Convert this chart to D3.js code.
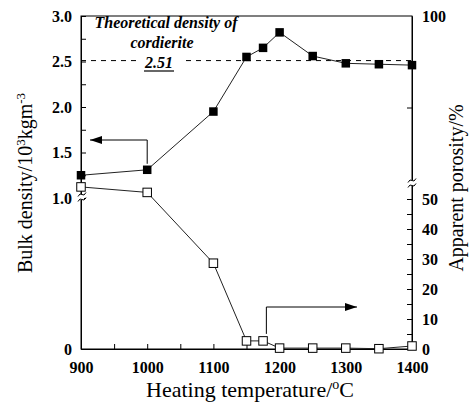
<!DOCTYPE html>
<html>
<head>
<meta charset="utf-8">
<script src="https://cdn.jsdelivr.net/npm/d3@7"></script>
<style>
  body { margin: 0; background: #fff; }
  svg { display: block; }
  .tick text { font-family: "Liberation Serif", "DejaVu Serif", serif; font-weight: bold; font-size: 16px; fill: #000; }
  .title { font-family: "Liberation Serif", "DejaVu Serif", serif; font-size: 20px; fill: #000; }
  .note { font-family: "Liberation Serif", "DejaVu Serif", serif; font-size: 16px; font-weight: bold; font-style: italic; fill: #000; }
</style>
</head>
<body>
<svg id="chart" width="471" height="403"></svg>
<script>
// heating temperature (°C)
const temps = [900, 1000, 1100, 1150, 1175, 1200, 1250, 1300, 1350, 1400];
// bulk density (10^3 kg m^-3)
const density = [1.25, 1.31, 1.95, 2.55, 2.65, 2.82, 2.56, 2.48, 2.47, 2.46];
// apparent porosity (%)
const porosity = [53.3, 51.8, 28.6, 2.7, 2.7, 0.3, 0.3, 0.3, 0.1, 1.0];

const theoretical = 2.51;

const xTicks = [900, 1000, 1100, 1200, 1300, 1400];
const xMinor = [950, 1050, 1150, 1250, 1350];
const leftTicks = [0, 1.0, 1.5, 2.0, 2.5, 3.0];
const leftMinor = [1.25, 1.75, 2.25, 2.75];
const rightTicks = [0, 10, 20, 30, 40, 50, 100];
const rightMinor = [5, 15, 25, 35, 45, 75];

const svg = d3.select('#chart');

const x = d3.scaleLinear().domain([900, 1400]).range([81, 412]);
// broken axes: lower part below the break, compressed upper part above it
const yL = d3.scaleLinear().domain([0, 1, 3]).range([349, 198, 16]);
const yR = d3.scaleLinear().domain([0, 50, 100]).range([349, 199, 16]);

// frame
svg.append('rect')
    .attr('x', x.range()[0]).attr('y', 16)
    .attr('width', x.range()[1] - x.range()[0]).attr('height', 349 - 16)
    .attr('fill', 'none').attr('stroke', '#000').attr('stroke-width', 1);

// axes
const gx = svg.append('g').attr('transform', 'translate(0,349)')
    .call(d3.axisBottom(x).tickValues(xTicks).tickSize(-5).tickSizeOuter(0).tickPadding(10).tickFormat(d3.format('d')));
svg.append('g').attr('transform', 'translate(0,349)')
    .call(d3.axisBottom(x).tickValues(xMinor).tickSize(-5).tickSizeOuter(0).tickFormat(''));

const gl = svg.append('g').attr('transform', 'translate(81,0)')
    .call(d3.axisLeft(yL).tickValues(leftTicks).tickSize(-5).tickSizeOuter(0).tickPadding(9)
        .tickFormat(d => d === 0 ? '0' : d3.format('.1f')(d)));
gl.selectAll('.tick').filter(d => d === 0).select('line').remove();
svg.append('g').attr('transform', 'translate(81,0)')
    .call(d3.axisLeft(yL).tickValues(leftMinor).tickSize(-5).tickSizeOuter(0).tickFormat(''));

const gr = svg.append('g').attr('transform', 'translate(412,0)')
    .call(d3.axisRight(yR).tickValues(rightTicks).tickSize(-5).tickSizeOuter(0).tickPadding(10));
gr.selectAll('.tick').filter(d => d === 0 || d === 100).select('line').remove();
svg.append('g').attr('transform', 'translate(412,0)')
    .call(d3.axisRight(yR).tickValues(rightMinor).tickSize(-5).tickSizeOuter(0).tickFormat(''));

svg.selectAll('g').attr('font-family', null);
svg.selectAll('.domain').attr('stroke', '#000');
svg.selectAll('.tick line').attr('stroke', '#000');
gx.selectAll('.tick text').attr('dy', '0.9em');

// axis break marks
function axisBreak(cx, cy) {
    const g = svg.append('g').attr('transform', `translate(${cx},${cy})`);
    g.append('rect').attr('x', -2).attr('y', -3).attr('width', 4).attr('height', 6).attr('fill', '#fff');
    [-2.5, 2.5].forEach(dy => {
        g.append('path')
            .attr('d', `M-4,${dy + 2} q2,-4 4,-2 q2,2 4,-2`)
            .attr('fill', 'none').attr('stroke', '#000').attr('stroke-width', 1);
    });
}
axisBreak(82, yL(1.0) - 1);
axisBreak(412, 183);

// theoretical density line
svg.append('line')
    .attr('x1', x(900)).attr('x2', 140)
    .attr('y1', yL(theoretical)).attr('y2', yL(theoretical))
    .attr('stroke', '#000').attr('stroke-dasharray', '5,5');
svg.append('line')
    .attr('x1', 186).attr('x2', x(1400))
    .attr('y1', yL(theoretical)).attr('y2', yL(theoretical))
    .attr('stroke', '#000').attr('stroke-dasharray', '5,5');

const note = svg.append('g');
note.append('text').attr('class', 'note').attr('x', 166).attr('y', 28).attr('text-anchor', 'middle').text('Theoretical density of');
note.append('text').attr('class', 'note').attr('x', 162).attr('y', 48).attr('text-anchor', 'middle').text('cordierite');
note.append('text').attr('class', 'note').attr('x', 159).attr('y', 68).attr('text-anchor', 'middle').text(d3.format('.2f')(theoretical));
note.append('line').attr('x1', 144).attr('x2', 174).attr('y1', 71).attr('y2', 71).attr('stroke', '#000').attr('stroke-width', 1.2);

// series
const dens = temps.map((t, i) => [t, density[i]]);
const poro = temps.map((t, i) => [t, porosity[i]]);

svg.append('path').datum(dens)
    .attr('d', d3.line().x(d => x(d[0])).y(d => yL(d[1])))
    .attr('fill', 'none').attr('stroke', '#222').attr('stroke-width', 1);
svg.append('path').datum(poro)
    .attr('d', d3.line().x(d => x(d[0])).y(d => yR(d[1])))
    .attr('fill', 'none').attr('stroke', '#222').attr('stroke-width', 1);

const s = 8.5;
svg.selectAll('.dm').data(dens).enter().append('rect')
    .attr('x', d => x(d[0]) - s / 2).attr('y', d => yL(d[1]) - s / 2)
    .attr('width', s).attr('height', s).attr('fill', '#000');
svg.selectAll('.pm').data(poro).enter().append('rect')
    .attr('x', d => x(d[0]) - s / 2).attr('y', d => yR(d[1]) - s / 2)
    .attr('width', s).attr('height', s).attr('fill', '#fff').attr('stroke', '#000').attr('stroke-width', 1);

// arrows pointing to the matching axis
svg.append('defs').append('marker')
    .attr('id', 'head').attr('viewBox', '0 0 12 8').attr('refX', 12).attr('refY', 4)
    .attr('markerWidth', 12).attr('markerHeight', 8).attr('markerUnits', 'userSpaceOnUse').attr('orient', 'auto')
    .append('path').attr('d', 'M0,0L12,4L0,8Z').attr('fill', '#000');

svg.append('path')
    .attr('d', `M${x(1000)},${yL(1.31) - 6}V140H90`)
    .attr('fill', 'none').attr('stroke', '#000').attr('marker-end', 'url(#head)');
svg.append('path')
    .attr('d', `M${x(1180)},${yR(2.7) - 7}V307H357`)
    .attr('fill', 'none').attr('stroke', '#000').attr('marker-end', 'url(#head)');

// titles
svg.append('text').attr('class', 'title').attr('x', 250).attr('y', 397).attr('text-anchor', 'middle')
    .attr('font-size', 22).style('font-size', '22px')
    .call(t => {
        t.append('tspan').text('Heating temperature/');
        t.append('tspan').attr('font-size', 14).attr('dy', -8).text('o');
        t.append('tspan').attr('dy', 8).text('C');
    });

svg.append('text').attr('class', 'title')
    .attr('transform', 'translate(32,183) rotate(-90)').attr('text-anchor', 'middle')
    .call(t => {
        t.append('tspan').text('Bulk density/10');
        t.append('tspan').attr('font-size', 13).attr('dy', -7).text('3');
        t.append('tspan').attr('dy', 7).text('kgm');
        t.append('tspan').attr('font-size', 13).attr('dy', -7).text('-3');
    });

svg.append('text').attr('class', 'title')
    .attr('transform', 'translate(463,188) rotate(-90)').attr('text-anchor', 'middle')
    .text('Apparent porosity/%');
</script>
</body>
</html>
